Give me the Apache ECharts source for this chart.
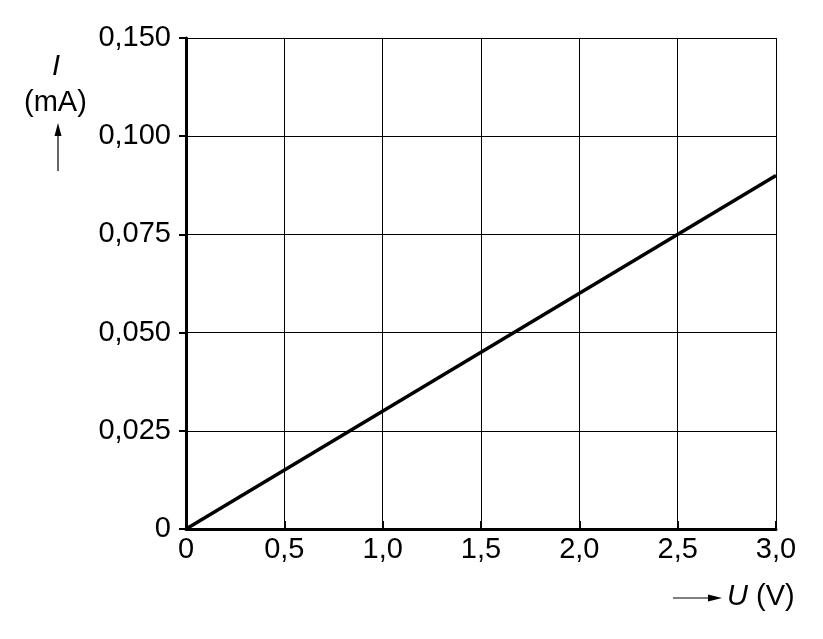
<!DOCTYPE html>
<html>
<head>
<meta charset="utf-8">
<script src="https://cdn.jsdelivr.net/npm/echarts@6/dist/echarts.min.js"></script>
<style>
  html, body { margin: 0; padding: 0; background: #fff; }
  #chart { width: 823px; height: 639px; }
</style>
</head>
<body>
<div id="chart"></div>
<script>
var myChart = echarts.init(document.getElementById('chart'));

// data
const voltage = [0, 3.0];       // U (V)
const current = [0, 0.090];     // I (mA)
const xTickLabels = ['0', '0,5', '1,0', '1,5', '2,0', '2,5', '3,0'];
// the top tick of the original reads "0,150" although it sits one 0,025 step above 0,100
const yTickLabels = ['0', '0,025', '0,050', '0,075', '0,100', '0,150'];

const font = '"Liberation Sans", Arial, sans-serif';

option = {
    animation: false,
    grid: { left: 186, right: 47, top: 38, bottom: 110 },
    xAxis: {
        type: 'value',
        min: 0,
        max: 3.0,
        interval: 0.5,
        axisLine: { lineStyle: { color: '#000', width: 3 } },
        axisTick: { inside: true, length: 8, lineStyle: { color: '#000', width: 2 } },
        axisLabel: {
            formatter: v => xTickLabels[Math.round(v / 0.5)],
            color: '#000', fontSize: 29, fontFamily: 'Liberation Sans', margin: 6
        },
        splitLine: { lineStyle: { color: '#000', width: 1 } }
    },
    yAxis: {
        type: 'value',
        min: 0,
        max: 0.125,
        interval: 0.025,
        axisLine: { show: true, lineStyle: { color: '#000', width: 3 } },
        axisTick: { show: true, length: 7, lineStyle: { color: '#000', width: 2 } },
        axisLabel: {
            formatter: v => yTickLabels[Math.round(v / 0.025)],
            color: '#000', fontSize: 29, fontFamily: 'Liberation Sans', margin: 15
        },
        splitLine: { lineStyle: { color: '#000', width: 1 } }
    },
    series: [
        {
            type: 'line',
            data: voltage.map((u, k) => [u, current[k]]),
            showSymbol: false,
            lineStyle: { color: '#000', width: 3.5 },
            z: 5
        }
    ],
    graphic: [
        // y axis name
        { type: 'text', left: 52, top: 52, style: { text: 'I', font: 'italic 29px ' + font, fill: '#000' } },
        { type: 'text', left: 24, top: 88, style: { text: '(mA)', font: '29px ' + font, fill: '#000' } },
        { type: 'line', shape: { x1: 58, y1: 171, x2: 58, y2: 132 }, style: { stroke: '#000', lineWidth: 1.2 } },
        { type: 'polygon', shape: { points: [[58, 123], [54.5, 136], [61.5, 136]] }, style: { fill: '#000' } },
        // x axis name
        { type: 'line', shape: { x1: 673, y1: 598, x2: 712, y2: 598 }, style: { stroke: '#000', lineWidth: 1.2 } },
        { type: 'polygon', shape: { points: [[722, 598], [708, 594.5], [708, 601.5]] }, style: { fill: '#000' } },
        { type: 'text', left: 727, top: 582, style: { text: 'U', font: 'italic 29px ' + font, fill: '#000' } },
        { type: 'text', left: 756, top: 582, style: { text: '(V)', font: '29px ' + font, fill: '#000' } }
    ]
};

myChart.setOption(option);
</script>
</body>
</html>
